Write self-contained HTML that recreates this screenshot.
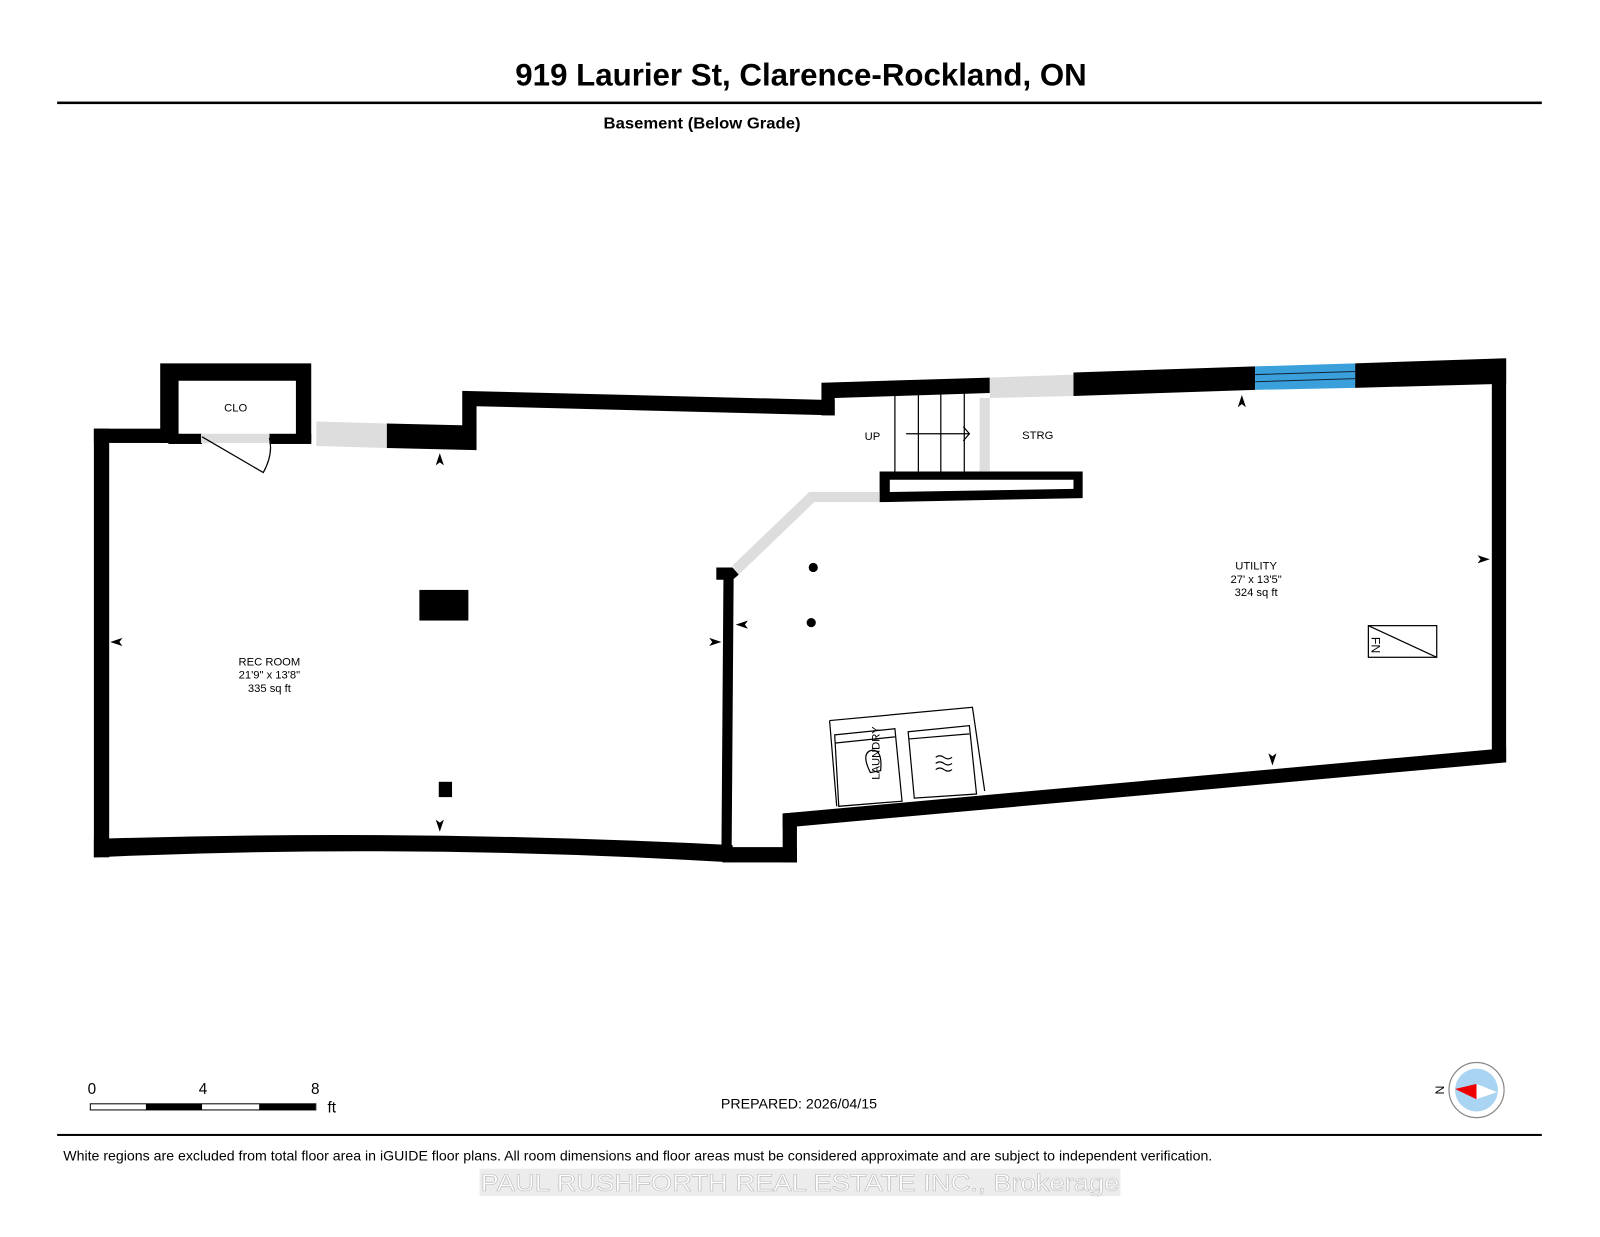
<!DOCTYPE html>
<html><head><meta charset="utf-8"><style>
html,body{margin:0;padding:0;background:#fff}
svg{display:block}
text{font-family:"Liberation Sans",Arial,sans-serif}
</style></head><body>
<svg width="1600" height="1237" viewBox="0 0 1568 1212" preserveAspectRatio="none" xmlns="http://www.w3.org/2000/svg">
<rect width="1568" height="1212" fill="#fff"/>
<text x="785" y="84" font-size="30.5" font-weight="bold" text-anchor="middle" textLength="560" lengthAdjust="spacingAndGlyphs">919 Laurier St, Clarence-Rockland, ON</text>
<rect x="56" y="99.5" width="1455" height="2.5" fill="#000"/>
<text x="688" y="126" font-size="15.5" font-weight="bold" text-anchor="middle" textLength="193" lengthAdjust="spacingAndGlyphs">Basement (Below Grade)</text>

<g fill="#000">
<rect x="92" y="420" width="15" height="420"/>
<rect x="92" y="420" width="73" height="14"/>
<path d="M157 356 H305 V434 H290 V373 H175 V434 H157 Z"/>
<rect x="165" y="425" width="33" height="10"/>
<rect x="264" y="425" width="41" height="10"/>
<path d="M379 415 L467 417 L467 441 L379 439 Z"/>
<path d="M453 383 L818 392 L818 407 L467 398 L467 420 L453 420 Z"/>
<path d="M805 375 L970 370 L970 385 L818 390 L818 407 L805 407 Z"/>
<path d="M1052 365 L1230 359 L1230 382 L1052 388 Z"/>
<path d="M1328 356 L1476 351 L1476 376 L1328 380 Z"/>
<rect x="1462" y="352" width="14" height="395"/>
<path d="M767 797 L781 796 L781 845 L767 845 Z"/>
<path d="M1476 733 L767 797 L767 811 L1476 747 Z"/>
<rect x="708" y="830" width="73" height="15"/>
<path d="M92 822 Q400 812 718 828 L718 845 Q400 826 92 840 Z"/>
<path d="M709 562 L719 562 L717 834 L707 834 Z"/>
<path d="M702 556 L718 556 L724 563 L718 568 L702 568 Z"/>
<rect x="411" y="578" width="48" height="30"/>
<rect x="430" y="766" width="13" height="15"/>
<circle cx="797" cy="556" r="4.5"/>
<circle cx="795" cy="610" r="4.5"/>
<path d="M862 462 H1061 V488 L862 492 Z M872 470 V482 L1052 479 V470 Z" fill-rule="evenodd"/>
</g>

<g fill="#ddd">
<rect x="197" y="425" width="67" height="9"/>
<path d="M310 413 L379 415 L379 439 L310 437 Z"/>
<path d="M970 370 L1052 367 L1052 388 L970 390 Z"/>
<rect x="960" y="390" width="10" height="72"/>
<path d="M718 554 L793 482 L862 482 L862 492 L798 492 L724 563 Z"/>
</g>
<path d="M1230 359 L1328 356 L1328 380 L1230 382 Z" fill="#3aa0dc"/>
<path d="M1230 367 L1328 364 M1230 374 L1328 371" stroke="#123" stroke-width="1"/>

<path d="M198 428 L258 463 Q268 445 264 429" fill="none" stroke="#000" stroke-width="1.2"/>

<g stroke="#000" stroke-width="1.2" fill="none">
<path d="M877 385 V465 M900 385 V465 M922 385 V465 M945 385 V465 M877 465 H962"/>
<path d="M888 425 H950 M944 418 L950 425 L944 432"/>
<rect x="1341" y="613" width="67" height="31"/>
<path d="M1341 613 L1408 644"/>
<path d="M813 706 L953 693 L965 775 M813 706 L820 790"/>
<path d="M818 720 L877 714 L884 785 L822 790 Z M819 728 L877 722"/>
<path d="M890 717 L950 711 L957 778 L896 782 Z M891 724 L950 719"/>
<path d="M917 742 q4 -3 8 0 t8 0 M917 748 q4 -3 8 0 t8 0 M917 754 q4 -3 8 0 t8 0"/>
<path d="M853 757 q-10 -20 2 -22 q10 0 8 20 Z"/>
</g>
<text transform="translate(862,764) rotate(-90)" font-size="11">LAUNDRY</text>
<text transform="translate(1344,624) rotate(90)" font-size="12">FN</text>

<g fill="#000">
<path d="M431 444 L427 456 L431 453 L435 456 Z"/>
<path d="M431 815 L427 803 L431 806 L435 803 Z"/>
<path d="M108 629 L120 625 L117 629 L120 633 Z"/>
<path d="M707 629 L695 625 L698 629 L695 633 Z"/>
<path d="M721 612 L733 608 L730 612 L733 616 Z"/>
<path d="M1217 387 L1213 399 L1217 396 L1221 399 Z"/>
<path d="M1460 548 L1448 544 L1451 548 L1448 552 Z"/>
<path d="M1247 750 L1243 738 L1247 741 L1251 738 Z"/>
</g>

<g font-size="11" text-anchor="middle">
<text x="231" y="403">CLO</text>
<text x="855" y="431">UP</text>
<text x="1017" y="430">STRG</text>
<text x="264" y="652">REC ROOM</text>
<text x="264" y="665">21'9" x 13'8"</text>
<text x="264" y="678">335 sq ft</text>
<text x="1231" y="558">UTILITY</text>
<text x="1231" y="571">27' x 13'5"</text>
<text x="1231" y="584">324 sq ft</text>
</g>

<rect x="88.5" y="1081.5" width="221" height="6" fill="#fff" stroke="#000"/>
<rect x="143" y="1081.5" width="55" height="6" fill="#000"/>
<rect x="254" y="1081.5" width="55" height="6" fill="#000"/>
<g font-size="15" text-anchor="middle"><text x="90" y="1072">0</text><text x="199" y="1072">4</text><text x="309" y="1072">8</text></g>
<text x="321" y="1090" font-size="15">ft</text>
<text x="783" y="1086" font-size="14" text-anchor="middle" textLength="153" lengthAdjust="spacingAndGlyphs">PREPARED: 2026/04/15</text>

<circle cx="1447" cy="1068" r="27" fill="#fff" stroke="#888" stroke-width="1.2"/>
<circle cx="1447" cy="1068" r="21" fill="#a9d4f2"/>
<path d="M1426 1067 L1447 1062 L1447 1077 Z" fill="#e00"/>
<path d="M1447 1062 L1467 1070 L1447 1077 Z" fill="#fff"/>
<text x="1411" y="1072" font-size="12" transform="rotate(90 1411 1068)" text-anchor="middle">N</text>

<rect x="56" y="1111" width="1455" height="2" fill="#000"/>
<text x="62" y="1137" font-size="13.5" textLength="1126" lengthAdjust="spacingAndGlyphs">White regions are excluded from total floor area in iGUIDE floor plans. All room dimensions and floor areas must be considered approximate and are subject to independent verification.</text>
<rect x="470" y="1145" width="628" height="27" fill="#ececec"/>
<text x="784" y="1167" font-size="24" fill="#fff" stroke="#bbb" stroke-width="0.6" text-anchor="middle" textLength="626" lengthAdjust="spacingAndGlyphs">PAUL RUSHFORTH REAL ESTATE INC., Brokerage</text>
</svg>
</body></html>
